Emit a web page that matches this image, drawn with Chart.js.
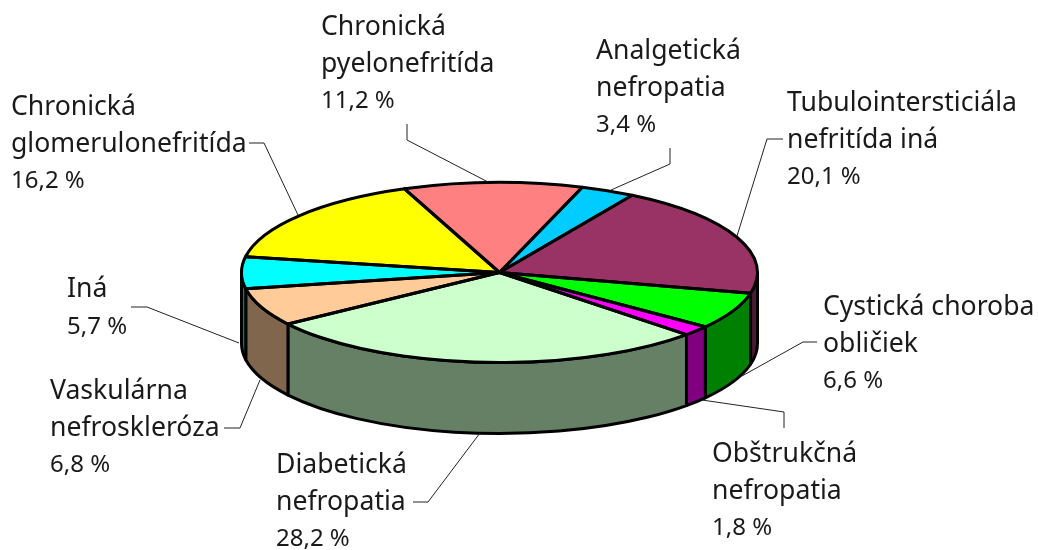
<!DOCTYPE html>
<html>
<head>
<meta charset="utf-8">
<title>Nefropatie</title>
<script src="https://cdn.jsdelivr.net/npm/chart.js@4/dist/chart.umd.min.js"></script>
<style>
    html, body { margin: 0; padding: 0; background: #fff; }
    canvas { display: block; }
</style>
</head>
<body>
<canvas id="pieChart" width="1038" height="550"></canvas>
<script>
var categories = [
    ["Chronická", "pyelonefritída"],
    ["Analgetická", "nefropatia"],
    ["Tubulointersticiála", "nefritída iná"],
    ["Cystická choroba", "obličiek"],
    ["Obštrukčná", "nefropatia"],
    ["Diabetická", "nefropatia"],
    ["Vaskulárna", "nefroskleróza"],
    ["Iná"],
    ["Chronická", "glomerulonefritída"]
];
var values = [11.2, 3.4, 20.1, 6.6, 1.8, 28.2, 6.8, 5.7, 16.2];
var valueLabels = ["11,2 %", "3,4 %", "20,1 %", "6,6 %", "1,8 %", "28,2 %", "6,8 %", "5,7 %", "16,2 %"];

var topColors = ["#FF8080", "#00CCFF", "#993366", "#00FF00", "#FF00FF", "#CCFFCC", "#FFCC99", "#00FFFF", "#FFFF00"];
var wallColors = ["#804040", "#006680", "#4D1A33", "#008000", "#800080", "#668066", "#80664D", "#008080", "#808000"];

// label position: left edge and first baseline
var labelX = [321, 596, 787, 823, 712, 276, 50, 67, 11];
var labelY = [35, 59, 111, 315, 462, 473, 399, 297, 115];

// leader lines, from the label to the pie edge
var leaders = [
    [[407, 124], [407, 140], [488, 182]],
    [[670, 148], [670, 164], [611, 190]],
    [[783, 139], [767, 139], [737, 236]],
    [[817, 342], [803, 342], [742, 376]],
    [[784, 428], [784, 412], [702, 400]],
    [[413, 502], [428, 502], [480, 433]],
    [[224, 428], [240, 428], [260, 380]],
    [[131, 307], [147, 307], [239, 343]],
    [[249, 143], [264, 143], [298, 215]]
];

var squash = 0.349;
var depth = 71;
var lineHeight = 36.5;

/*---------------------------------------------------
  Tilted pie: squash the library's arcs, add the walls
---------------------------------------------------*/
function frontParts(start, end) {
    var parts = [];
    [-2, 0, 2].forEach(function (k) {
        var a = Math.max(start, k * Math.PI);
        var b = Math.min(end, (k + 1) * Math.PI);
        if (b > a) {
            parts.push([a, b]);
        }
    });
    return parts;
}

var tiltPlugin = {
    id: 'tilt',
    beforeDatasetsDraw: function (chart) {
        var ctx = chart.ctx;
        var arcs = chart.getDatasetMeta(0).data;
        ctx.save();
        ctx.lineWidth = 3;
        ctx.lineJoin = 'round';
        ctx.strokeStyle = '#000';
        arcs.forEach(function (arc, i) {
            var ry = arc.outerRadius * squash;
            frontParts(arc.startAngle, arc.endAngle).forEach(function (p) {
                ctx.beginPath();
                ctx.ellipse(arc.x, arc.y, arc.outerRadius, ry, 0, p[0], p[1]);
                ctx.ellipse(arc.x, arc.y + depth, arc.outerRadius, ry, 0, p[1], p[0], true);
                ctx.closePath();
                ctx.fillStyle = wallColors[i];
                ctx.fill();
                ctx.stroke();
            });
        });
        ctx.restore();

        var first = arcs[0];
        ctx.save();
        ctx.translate(first.x, first.y);
        ctx.scale(1, squash);
        ctx.translate(-first.x, -first.y);
    },
    afterDatasetsDraw: function (chart) {
        var ctx = chart.ctx;
        ctx.restore();
        ctx.save();
        ctx.lineWidth = 3;
        ctx.lineJoin = 'round';
        ctx.strokeStyle = '#000';
        chart.getDatasetMeta(0).data.forEach(function (arc) {
            ctx.beginPath();
            ctx.moveTo(arc.x, arc.y);
            ctx.ellipse(arc.x, arc.y, arc.outerRadius, arc.outerRadius * squash, 0, arc.startAngle, arc.endAngle);
            ctx.closePath();
            ctx.stroke();
        });
        ctx.restore();
    }
};

/*---------------------------------------------------
  Labels and leader lines
---------------------------------------------------*/
var labelPlugin = {
    id: 'labels',
    afterDraw: function (chart) {
        var ctx = chart.ctx;
        ctx.save();
        ctx.strokeStyle = '#222';
        ctx.lineWidth = 1;
        leaders.forEach(function (line) {
            ctx.beginPath();
            ctx.moveTo(line[0][0], line[0][1]);
            ctx.lineTo(line[1][0], line[1][1]);
            ctx.lineTo(line[2][0], line[2][1]);
            ctx.stroke();
        });

        ctx.fillStyle = '#1a1a1a';
        ctx.textAlign = 'left';
        ctx.textBaseline = 'alphabetic';
        categories.forEach(function (lines, i) {
            ctx.font = '26.6px "Noto Sans"';
            lines.forEach(function (row, j) {
                ctx.fillText(row, labelX[i], labelY[i] + j * lineHeight);
            });
            // the numbers are smaller than the words in the original
            ctx.font = '24px "Noto Sans"';
            ctx.fillText(valueLabels[i], labelX[i], labelY[i] + lines.length * lineHeight);
        });
        ctx.restore();
    }
};

var pieChart = new Chart(document.getElementById('pieChart'), {
    type: 'pie',
    data: {
        labels: categories.map(function (c) { return c.join(' '); }),
        datasets: [{
            data: values,
            backgroundColor: topColors,
            borderWidth: 0,
            radius: 258,
            rotation: -21.6,
            clip: false
        }]
    },
    options: {
        responsive: false,
        animation: false,
        layout: { padding: { left: 0, right: 39, top: 0, bottom: 5 } },
        plugins: {
            legend: { display: false },
            tooltip: { enabled: false }
        }
    },
    plugins: [tiltPlugin, labelPlugin]
});
</script>
</body>
</html>
